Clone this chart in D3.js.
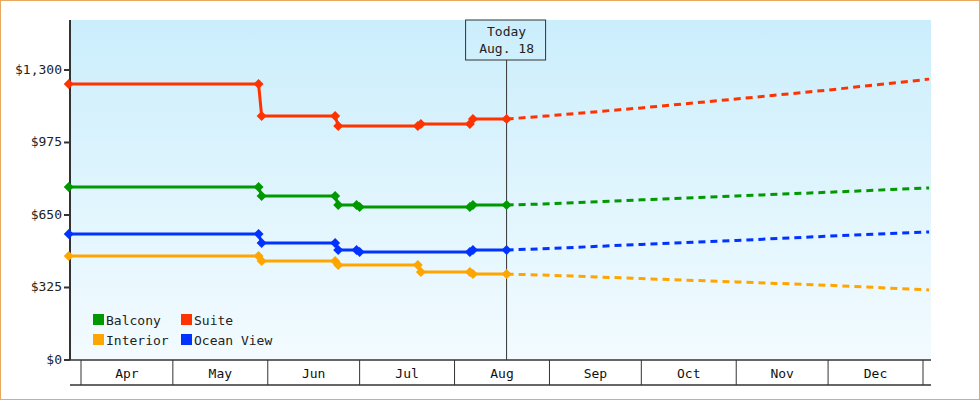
<!DOCTYPE html>
<html><head><meta charset="utf-8">
<script src="https://cdn.jsdelivr.net/npm/d3@7"></script>
<style>body{margin:0;background:#fff}svg{display:block;font-family:"DejaVu Sans Mono",monospace}</style>
</head><body><svg id="c" width="980" height="400"></svg>
<script>
const seriesNames = ["Suite","Balcony","Ocean View","Interior"];
const colors = ["#ff3300","#009900","#0033ff","#ffa500"];
const histDates = ["2023-03-28","2023-05-29","2023-05-30","2023-06-23","2023-06-24","2023-06-30","2023-07-01","2023-07-20","2023-07-21","2023-08-06","2023-08-07","2023-08-18"];
const suiteHist   = [1237,1237,1094,1094,1049,1049,1049,1049,1058,1058,1080,1080];
const balconyHist = [775,775,735,735,695,695,686,686,686,686,695,695];
const oceanHist   = [565,565,524,524,493,493,484,484,484,484,493,493];
const interiorHist= [466,466,444,444,426,426,426,426,394,394,385,385];
const fcDates = ["2023-08-18","2023-09-01","2023-10-01","2023-11-01","2023-12-01","2024-01-03"];
const suiteFc   = [1080,1095,1130,1170,1210,1259];
const balconyFc = [695,700,718,735,752,771];
const oceanFc   = [493,500,518,536,555,574];
const interiorFc= [385,380,365,350,335,314];
const yTicks = [0,325,650,975,1300];
const monthLabels = ["Apr","May","Jun","Jul","Aug","Sep","Oct","Nov","Dec"];
const todayDate = "2023-08-18", todayLabel = ["Today","Aug. 18"];

const hist=[suiteHist,balconyHist,oceanHist,interiorHist], fc=[suiteFc,balconyFc,oceanFc,interiorFc];
const svg=d3.select("#c");
const P=d3.timeParse("%Y-%m-%d");
const L=70,R=931,T=20,B=360;
const x=d3.scaleTime().domain([P("2023-04-01"),P("2024-01-01")]).range([81,923]);
const y=d3.scaleLinear().domain([0,1524]).range([B,T]);
svg.append("rect").attr("x",0.5).attr("y",0.5).attr("width",979).attr("height",399).attr("fill","#fff").attr("stroke","#e8a860");
const g=svg.append("defs").append("linearGradient").attr("id","bg").attr("x1",0).attr("x2",0).attr("y1",0).attr("y2",1);
g.append("stop").attr("offset",0).attr("stop-color","#cbeefc");
g.append("stop").attr("offset",1).attr("stop-color","#f3fbff");
svg.append("rect").attr("x",L).attr("y",T).attr("width",R-L).attr("height",B-T).attr("fill","url(#bg)");
yTicks.forEach(v=>{
  svg.append("line").attr("x1",L-6).attr("x2",L).attr("y1",y(v)).attr("y2",y(v)).attr("stroke","#333").attr("stroke-width",2);
  svg.append("text").attr("x",L-8).attr("y",y(v)+4).attr("text-anchor","end").attr("font-size",13).attr("fill","#222").text(d3.format("$,")(v));
});
svg.append("line").attr("x1",L).attr("x2",L).attr("y1",T).attr("y2",B).attr("stroke","#333").attr("stroke-width",2);
svg.append("line").attr("x1",L).attr("x2",R).attr("y1",B).attr("y2",B).attr("stroke","#333").attr("stroke-width",1.5);
svg.append("line").attr("x1",L).attr("x2",R).attr("y1",385).attr("y2",385).attr("stroke","#333").attr("stroke-width",1.5);
const months=d3.timeMonth.range(P("2023-04-01"),P("2024-01-02"));
months.forEach(m=>{svg.append("line").attr("x1",x(m)).attr("x2",x(m)).attr("y1",B).attr("y2",385).attr("stroke","#333");});
monthLabels.forEach((t,i)=>{const a=x(months[i]),b=x(months[i+1]);
  svg.append("text").attr("x",(a+b)/2).attr("y",378).attr("text-anchor","middle").attr("font-size",13).attr("fill","#111").text(t);});
const tx=x(P(todayDate));
svg.append("line").attr("x1",tx).attr("x2",tx).attr("y1",60).attr("y2",B).attr("stroke","#333");
svg.append("rect").attr("x",tx-41).attr("y",20).attr("width",80).attr("height",40).attr("fill","none").attr("stroke","#333");
todayLabel.forEach((t,i)=>svg.append("text").attr("x",tx).attr("y",36+i*17).attr("text-anchor","middle").attr("font-size",13).attr("fill","#222").text(t));
const line=d3.line().x(d=>x(d[0])).y(d=>y(d[1]));
hist.forEach((h,k)=>{
  const c=colors[k];
  const fd=fc[k].map((v,i)=>[P(fcDates[i]),v]);
  svg.append("path").attr("d",line(fd)).attr("fill","none").attr("stroke",c).attr("stroke-width",3).attr("stroke-dasharray","7,5");
  const hd=h.map((v,i)=>[P(histDates[i]),v]);
  svg.append("path").attr("d",line(hd)).attr("fill","none").attr("stroke",c).attr("stroke-width",3);
  hd.forEach((d,i)=>{
    const changed=(i==0||i==hd.length-1||h[i]!==h[i-1]||(i+1<h.length&&h[i+1]!==h[i]));
    if(!changed)return;
    const cx=x(d[0]),cy=y(d[1]);
    svg.append("path").attr("d",`M${cx},${cy-5}L${cx+5},${cy}L${cx},${cy+5}L${cx-5},${cy}Z`).attr("fill",c);
  });
});
const leg=[["Balcony",1,93,320],["Suite",0,181,320],["Interior",3,93,340],["Ocean View",2,181,340]];
leg.forEach(([n,k,lx,ly])=>{
  svg.append("rect").attr("x",lx).attr("y",ly-6).attr("width",11).attr("height",11).attr("fill",colors[k]);
  svg.append("text").attr("x",lx+13).attr("y",ly+5).attr("font-size",13).attr("fill","#222").text(n);
});
</script></body></html>
